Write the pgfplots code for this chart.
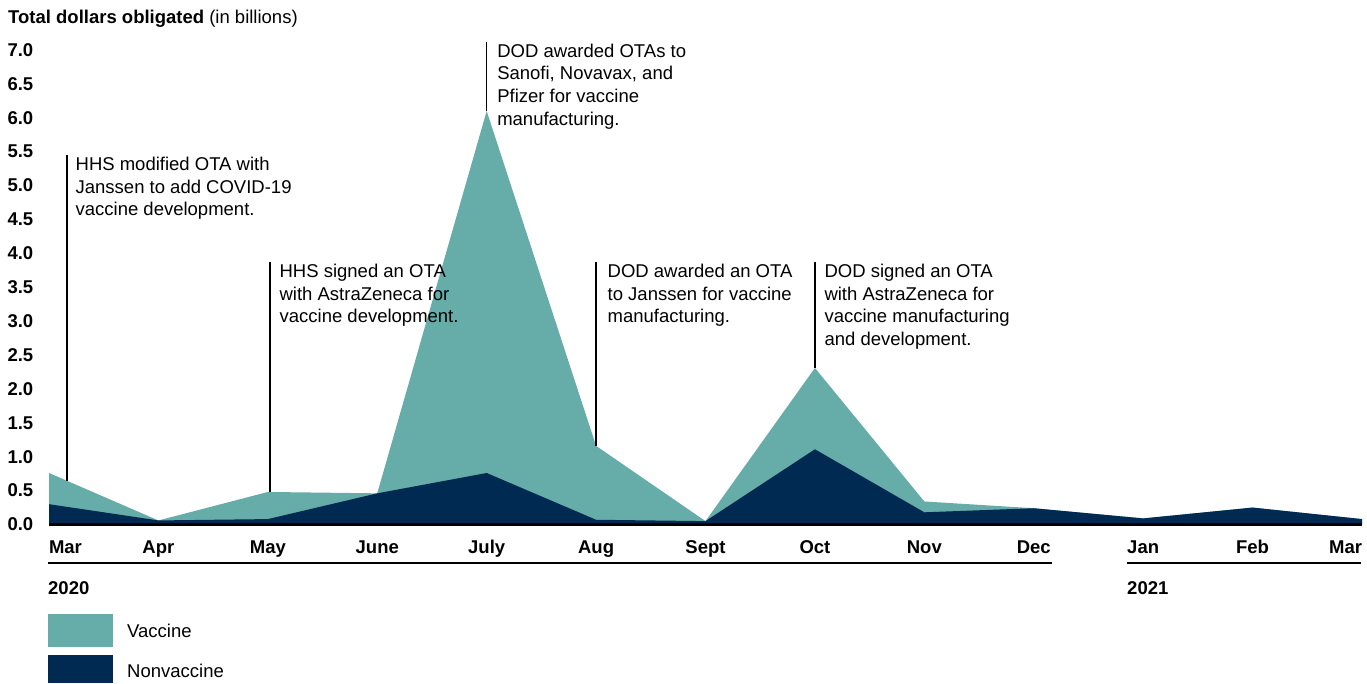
\documentclass[border=0pt]{standalone}
\usepackage{pgfplots}
\pgfplotsset{compat=1.18}
\usepackage{fontspec}
\setmainfont{Liberation Sans}
\definecolor{vacc}{HTML}{66ADA9}
\definecolor{nonvacc}{HTML}{002A52}
\newcommand{\fs}{\fontsize{18.5}{22.6}\selectfont}
\begin{document}
\begin{tikzpicture}[x=1pt,y=1pt]
\useasboundingbox (0,0) rectangle (1367,-683);
\begin{axis}[
  at={(49pt,-524.5pt)}, anchor=south west,
  scale only axis, width=1313pt, height=474.5pt,
  xmin=0, xmax=12, ymin=0, ymax=7,
  clip=false,
  axis on top,
  axis x line=bottom, axis y line=left,
  axis line style={-},
  x axis line style={line width=3pt},
  y axis line style={draw=none},
  major tick length=0pt,
  xtick={0,1,2,3,4,5,6,7,8,9,10,11,12},
  xticklabels={\makebox[0pt][l]{Mar},Apr,May,June,July,Aug,Sept,Oct,Nov,Dec,Jan,Feb,\makebox[0pt][r]{Mar}},
  xticklabel style={anchor=base, inner sep=0pt, yshift=-28.5pt, font=\fs\bfseries},
  ytick={0,0.5,1,1.5,2,2.5,3,3.5,4,4.5,5,5.5,6,6.5,7},
  yticklabel style={anchor=west, inner sep=0pt, xshift=-41.7pt, font=\fs\bfseries,
    /pgf/number format/.cd, fixed, fixed zerofill, precision=1, assume math mode=true},
]
% total (vaccine + nonvaccine)
\addplot[fill=vacc, draw=none] coordinates {
  (0,0.76) (1,0.06) (2,0.48) (3,0.46) (4,6.10) (5,1.16) (6,0.05)
  (7,2.31) (8,0.34) (9,0.24) (10,0.09) (11,0.25) (12,0.08)
} \closedcycle;
% nonvaccine
\addplot[fill=nonvacc, draw=none] coordinates {
  (0,0.30) (1,0.06) (2,0.08) (3,0.46) (4,0.76) (5,0.07) (6,0.05)
  (7,1.11) (8,0.18) (9,0.24) (10,0.09) (11,0.25) (12,0.08)
} \closedcycle;

% annotations
\draw[line width=1.2pt] (axis cs:0.165,0.645) -- (axis cs:0.165,5.45)
  node[anchor=north west, inner sep=0pt, xshift=8pt, yshift=-1.5pt, align=left, font=\fs]
  {HHS modified OTA with\\Janssen to add COVID-19\\vaccine development.};
\draw[line width=1.2pt] (axis cs:2.02,0.48) -- (axis cs:2.02,3.87)
  node[anchor=north west, inner sep=0pt, xshift=9pt, yshift=-1.5pt, align=left, font=\fs]
  {HHS signed an OTA\\with AstraZeneca for\\vaccine development.};
\draw[line width=1.2pt] (axis cs:4.0,6.10) -- (axis cs:4.0,7.12)
  node[anchor=north west, inner sep=0pt, xshift=10pt, yshift=-1.5pt, align=left, font=\fs]
  {DOD awarded OTAs to\\Sanofi, Novavax, and\\Pfizer for vaccine\\manufacturing.};
\draw[line width=1.2pt] (axis cs:5.0,1.16) -- (axis cs:5.0,3.87)
  node[anchor=north west, inner sep=0pt, xshift=11pt, yshift=-1.5pt, align=left, font=\fs]
  {DOD awarded an OTA\\to Janssen for vaccine\\manufacturing.};
\draw[line width=1.2pt] (axis cs:7.0,2.31) -- (axis cs:7.0,3.87)
  node[anchor=north west, inner sep=0pt, xshift=9pt, yshift=-1.5pt, align=left, font=\fs]
  {DOD signed an OTA\\with AstraZeneca for\\vaccine manufacturing\\and development.};
\end{axis}

% title
\node[anchor=base west, inner sep=0pt, font=\fs] at (8,-23) {\textbf{Total dollars obligated} (in billions)};

% year rules and labels
\draw[line width=1.5pt] (48,-563) -- (1052,-563);
\draw[line width=1.5pt] (1127,-563) -- (1361,-563);
\node[anchor=base west, inner sep=0pt, font=\fs\bfseries] at (48,-594) {2020};
\node[anchor=base west, inner sep=0pt, font=\fs\bfseries] at (1127,-594) {2021};

% legend
\fill[vacc] (48,-614) rectangle (113,-647);
\fill[nonvacc] (48,-655) rectangle (113,-683);
\node[anchor=base west, inner sep=0pt, font=\fs] at (127,-637) {Vaccine};
\node[anchor=base west, inner sep=0pt, font=\fs] at (127,-677.3) {Nonvaccine};
\end{tikzpicture}
\end{document}
